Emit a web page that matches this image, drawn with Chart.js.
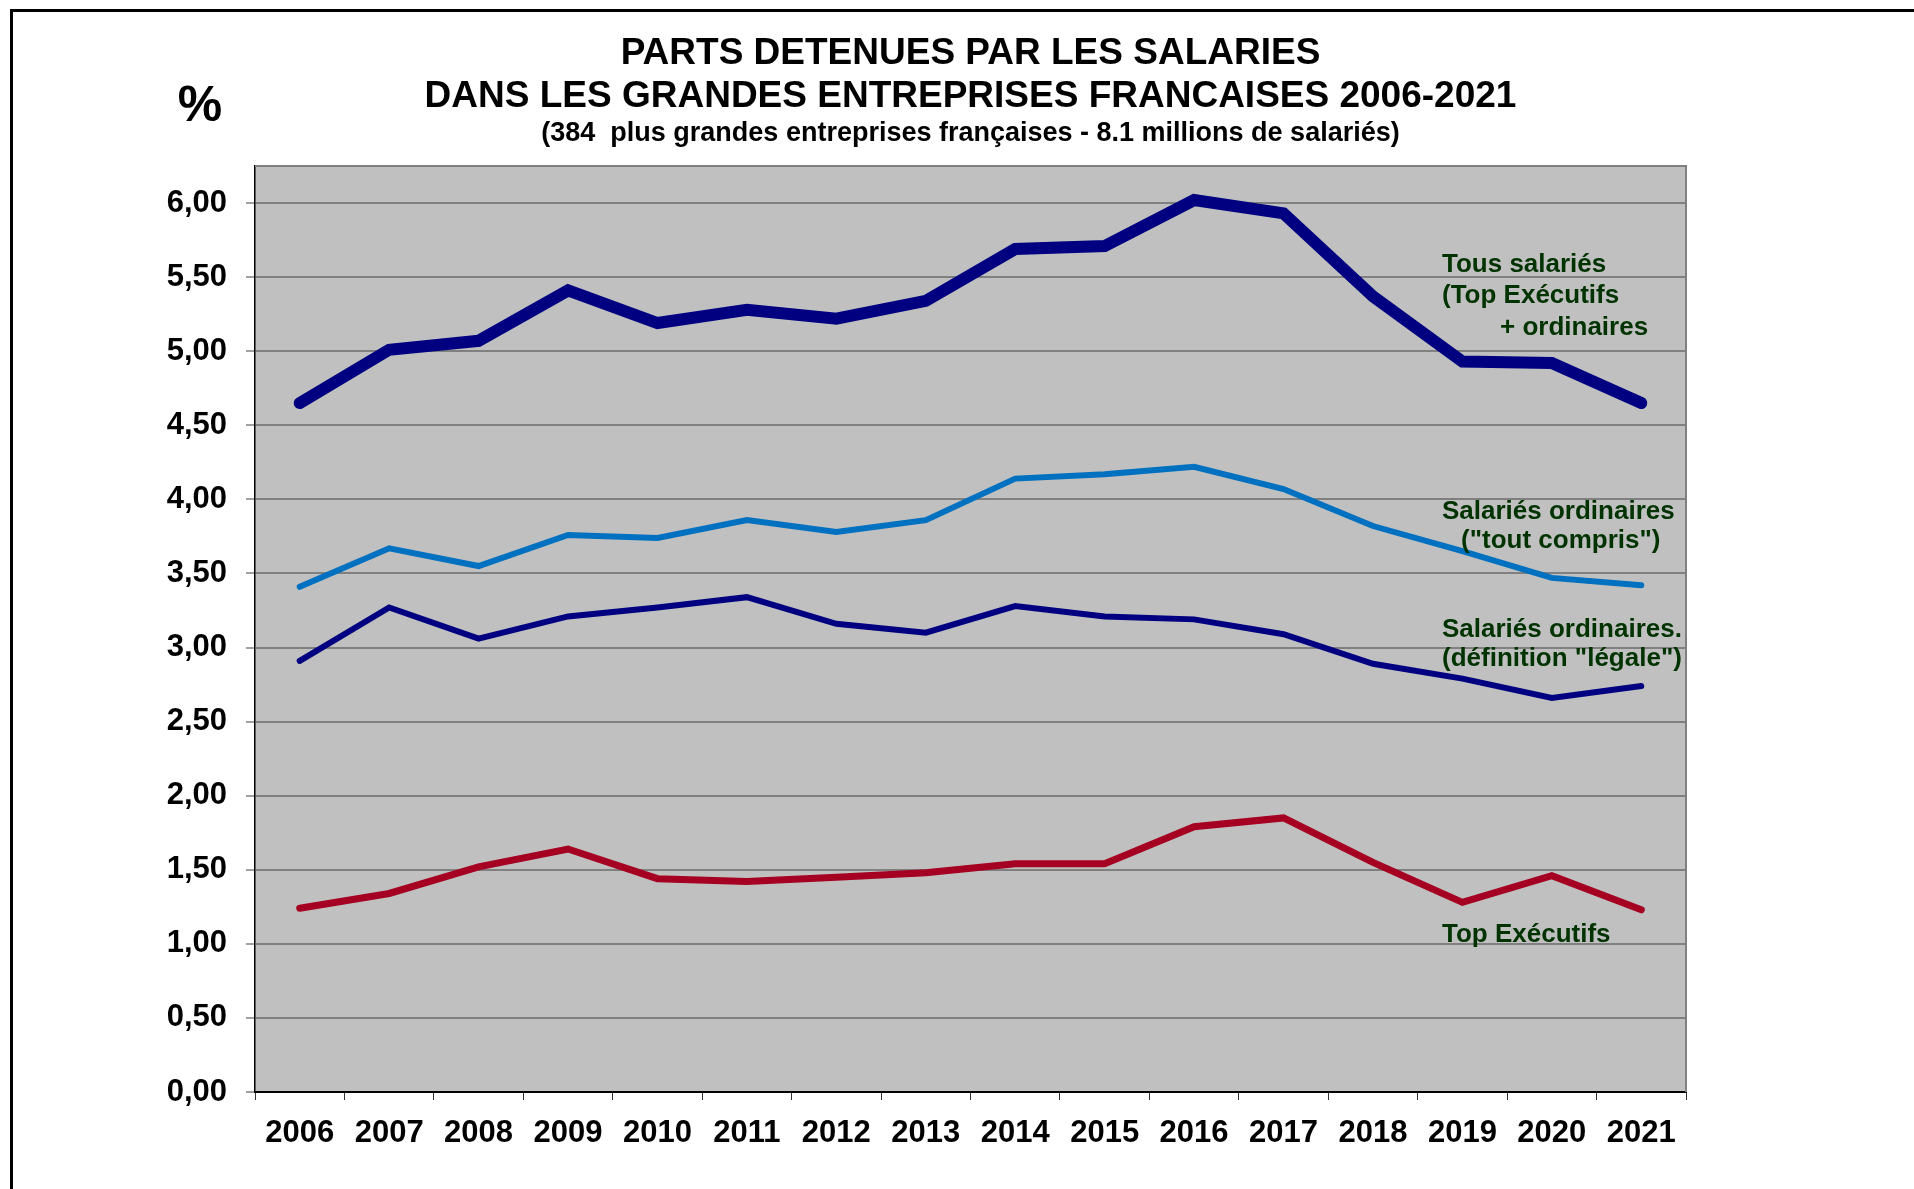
<!DOCTYPE html>
<html>
<head>
<meta charset="utf-8">
<script src="https://cdn.jsdelivr.net/npm/chart.js@4"></script>
<style>
    html, body { margin: 0; padding: 0; background: #fff; }
    #wrap { position: relative; width: 1914px; height: 1189px; overflow: hidden; }
    #frame { position: absolute; left: 10px; top: 9px; right: -10px; bottom: -10px; border-left: 3px solid #000; border-top: 3px solid #000; pointer-events: none; }
    canvas { position: absolute; left: 0; top: 0; }
</style>
</head>
<body>
<div id="wrap">
    <canvas id="lineChart" width="1914" height="1189"></canvas>
    <div id="frame"></div>
</div>
<script>
var years = ['2006', '2007', '2008', '2009', '2010', '2011', '2012', '2013', '2014', '2015', '2016', '2017', '2018', '2019', '2020', '2021'];

var tousSalaries = [4.65, 5.01, 5.07, 5.41, 5.19, 5.28, 5.22, 5.34, 5.69, 5.71, 6.02, 5.93, 5.37, 4.93, 4.92, 4.65];
var ordinairesToutCompris = [3.41, 3.67, 3.55, 3.76, 3.74, 3.86, 3.78, 3.86, 4.14, 4.17, 4.22, 4.07, 3.82, 3.65, 3.47, 3.42];
var ordinairesLegale = [2.91, 3.27, 3.06, 3.21, 3.27, 3.34, 3.16, 3.10, 3.28, 3.21, 3.19, 3.09, 2.89, 2.79, 2.66, 2.74];
var topExecutifs = [1.24, 1.34, 1.52, 1.64, 1.44, 1.42, 1.45, 1.48, 1.54, 1.54, 1.79, 1.85, 1.55, 1.28, 1.46, 1.23];

var titleLines = ['PARTS DETENUES PAR LES SALARIES', 'DANS LES GRANDES ENTREPRISES FRANCAISES 2006-2021'];
var subtitle = '(384  plus grandes entreprises françaises - 8.1 millions de salariés)';
var unitLabel = '%';
var labelTous = ['Tous salariés', '(Top Exécutifs', '+ ordinaires'];
var labelToutCompris = ['Salariés ordinaires', '("tout compris")'];
var labelLegale = ['Salariés ordinaires.', '(définition "légale")'];
var labelTop = ['Top Exécutifs'];

var FONT = '"Liberation Sans", Arial, sans-serif';

// grey plot background + grey top/right border, like the Excel original
var plotBackground = {
    id: 'plotBackground',
    beforeDraw: function (chart) {
        var ctx = chart.ctx, a = chart.chartArea;
        ctx.save();
        ctx.fillStyle = '#c0c0c0';
        ctx.fillRect(a.left, a.top, a.right - a.left, a.bottom - a.top);
        ctx.restore();
    },
    beforeDatasetsDraw: function (chart) {
        var ctx = chart.ctx, a = chart.chartArea;
        ctx.save();
        ctx.strokeStyle = '#808080';
        ctx.lineWidth = 2;
        ctx.beginPath();
        ctx.moveTo(a.left, a.top);
        ctx.lineTo(a.right, a.top);
        ctx.lineTo(a.right, a.bottom);
        ctx.stroke();
        ctx.restore();
    }
};

var textLayer = {
    id: 'textLayer',
    afterDraw: function (chart) {
        var ctx = chart.ctx, a = chart.chartArea;
        var cx = (a.left + a.right) / 2;
        ctx.save();
        ctx.fillStyle = '#000';
        ctx.textAlign = 'center';
        ctx.textBaseline = 'middle';
        ctx.font = 'bold 37px ' + FONT;
        ctx.fillText(titleLines[0], cx, 54);
        ctx.fillText(titleLines[1], cx, 97);
        ctx.font = 'bold 27px ' + FONT;
        ctx.fillText(subtitle, cx, 134);
        ctx.font = 'bold 50px ' + FONT;
        ctx.fillText(unitLabel, 200, 107);

        ctx.fillStyle = '#003300';
        ctx.textAlign = 'left';
        ctx.font = 'bold 26px ' + FONT;
        ctx.fillText(labelTous[0], 1442, 265);
        ctx.fillText(labelTous[1], 1442, 296);
        ctx.fillText(labelTous[2], 1500, 328);
        ctx.fillText(labelToutCompris[0], 1442, 512);
        ctx.fillText(labelToutCompris[1], 1461, 541);
        ctx.fillText(labelLegale[0], 1442, 630);
        ctx.fillText(labelLegale[1], 1442, 659);
        ctx.fillText(labelTop[0], 1442, 935);
        ctx.restore();
    }
};

function serie(data, color, width) {
    return {
        data: data,
        borderColor: color,
        backgroundColor: color,
        borderWidth: width,
        borderCapStyle: 'round',
        borderJoinStyle: 'miter',
        pointRadius: 0,
        pointHoverRadius: 0,
        fill: false,
        tension: 0
    };
}

var ctx = document.getElementById('lineChart').getContext('2d');
var lineChart = new Chart(ctx, {
    type: 'line',
    data: {
        labels: years,
        datasets: [
            serie(topExecutifs, '#a50021', 7),
            serie(ordinairesLegale, '#000080', 6),
            serie(ordinairesToutCompris, '#0070c0', 6),
            serie(tousSalaries, '#000080', 12)
        ]
    },
    plugins: [plotBackground, textLayer],
    options: {
        responsive: false,
        animation: false,
        layout: { padding: { top: 166, right: 228, bottom: 0, left: 0 } },
        plugins: {
            legend: { display: false },
            tooltip: { enabled: false },
            title: { display: false }
        },
        scales: {
            x: {
                offset: true,
                afterFit: function (scale) { scale.height = 97; },
                grid: {
                    offset: true,
                    drawOnChartArea: false,
                    drawTicks: true,
                    tickLength: 8,
                    tickColor: '#333',
                    tickWidth: 1
                },
                border: { color: '#000', width: 2 },
                ticks: {
                    color: '#000',
                    padding: 15,
                    maxRotation: 0,
                    autoSkip: false,
                    font: { family: FONT, size: 31, weight: 'bold' }
                }
            },
            y: {
                min: 0,
                max: 6.25,
                afterFit: function (scale) { scale.width = 255; },
                afterBuildTicks: function (scale) {
                    scale.ticks = scale.ticks.filter(function (t) { return t.value <= 6; });
                },
                grid: {
                    color: '#808080',
                    lineWidth: 2,
                    tickLength: 9,
                    tickColor: '#808080',
                    tickWidth: 1.5
                },
                border: { color: '#000', width: 1.5 },
                ticks: {
                    stepSize: 0.5,
                    color: '#000',
                    padding: 19,
                    font: { family: FONT, size: 31, weight: 'bold' },
                    callback: function (value) { return value.toFixed(2).replace('.', ','); }
                }
            }
        }
    }
});
</script>
</body>
</html>
